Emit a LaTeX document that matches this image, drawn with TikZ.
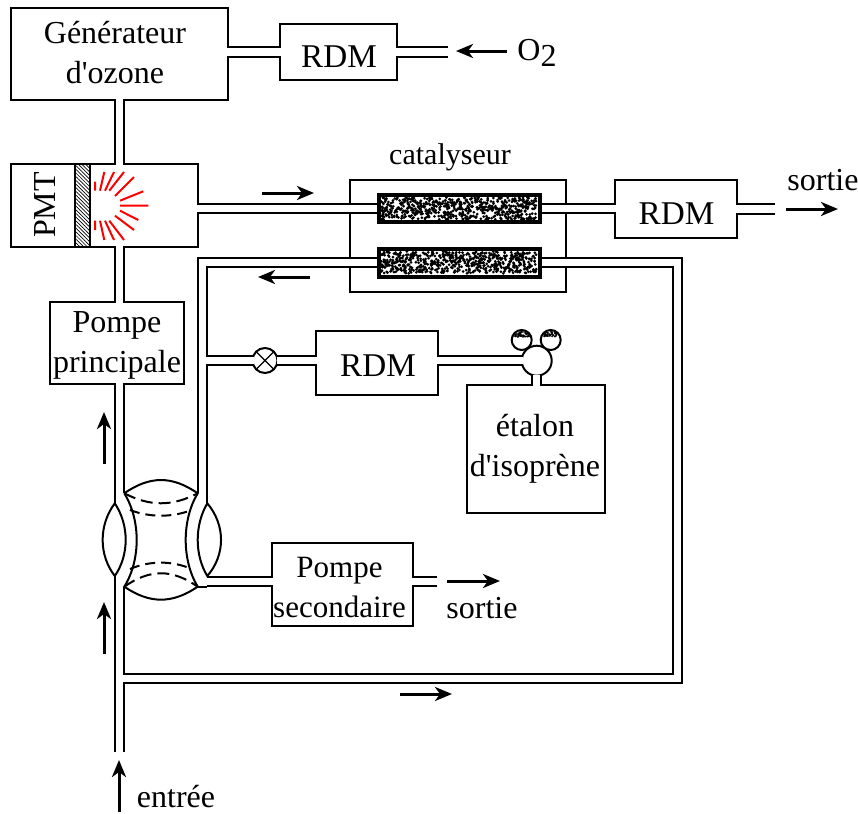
\documentclass[tikz,border=0pt]{standalone}
\usepackage{fontspec}
\setmainfont{Liberation Serif}[Ligatures=TeXOff]
\usetikzlibrary{arrows.meta,patterns.meta}

\tikzset{
  box/.style={draw,line width=1pt,outer sep=-0.5pt,inner sep=0pt,align=center},
  catbox/.style={draw,line width=2pt,fill=white,inner sep=0pt},
  pipe/.style={line width=1pt,double,double distance=3.75pt},
  wall/.style={line width=1pt},
  flow/.style={line width=1.5pt,-{Stealth[length=8.5pt,width=7pt,inset=2.5pt]}},
  lab/.style={inner sep=0pt,align=center},
  rdmlab/.style={lab,font=\fontsize{16.6}{20}\selectfont},
}

\begin{document}
\begin{tikzpicture}[x=0.5pt,y=-0.5pt,font=\fontsize{16}{20}\selectfont]
\useasboundingbox (0,0) rectangle (858,814);

% boxes
\node[box,minimum width=108.5pt,minimum height=46pt] (gen) at (119.5,54) {};
\node[box,minimum width=58.5pt,minimum height=28pt] (rdmA) at (338.5,52) {};
\node[box,minimum width=93.5pt,minimum height=41.5pt] (pmt) at (104.5,205.5) {};
\node[box,pattern={Lines[angle=-45,distance=1.3pt,line width=0.35pt]},minimum width=7.5pt,minimum height=41.5pt] (hatch) at (82.5,205.5) {};
\node[box,minimum width=108pt,minimum height=56pt] (frame) at (457.5,236) {};
\node[box,minimum width=61pt,minimum height=29pt] (rdmC) at (676,209) {};
\node[catbox,minimum width=80.5pt,minimum height=13.5pt] (catA) at (459,208.5) {};
\node[catbox,minimum width=80.5pt,minimum height=14pt] (catB) at (459,262.5) {};
\node[box,minimum width=67pt,minimum height=41pt] (pomP) at (117,343) {};
\node[box,circle,fill=white,minimum size=12.5pt] (valve) at (265,360.5) {};
\node[box,minimum width=61pt,minimum height=32pt] (rdmD) at (377,363) {};
\node[box,circle,minimum size=15pt] (bulb) at (536.7,360.7) {};
\node[box,circle,fill=white,minimum size=10pt] (sphA) at (521.7,340) {};
\node[box,circle,fill=white,minimum size=10pt] (sphB) at (550.7,340) {};
\node[box,minimum width=69pt,minimum height=64pt] (etalon) at (536,449) {};
\node[box,minimum width=70.5pt,minimum height=41.5pt] (pomS) at (342.5,584.5) {};

% labels
\node[lab] (genlab) at (115,53) {Générateur\\d'ozone};
\node[rdmlab] (rdmAlab) at (339,57) {RDM};
\node[lab] (oxy) at (537,53) {O\raisebox{-3pt}{2}};
\node[lab,rotate=90] (pmtlab) at (45,205) {PMT};
\node[lab,font=\fontsize{15}{20}\selectfont] (catlab) at (450,157) {catalyseur};
\node[rdmlab] (rdmClab) at (676.5,214) {RDM};
\node[lab] (sortA) at (823,180) {sortie};
\node[lab] (pomPlab) at (117,345) {Pompe\\principale};
\node[rdmlab] (rdmDlab) at (378,366) {RDM};
\node[lab] (etalab) at (535,449) {étalon\\d'isoprène};
\node[lab,font=\fontsize{15.5}{20}\selectfont] (pomSlab) at (339.5,587.5) {Pompe\\secondaire};
\node[lab] (sortB) at (482,608) {sortie};
\node[lab] (entree) at (176,797) {entrée};

% free ends
\coordinate (cTL) at (124.3,493.3);
\coordinate (cTR) at (197.7,493.3);
\coordinate (cBL) at (124.3,586.7);
\coordinate (cBR) at (197.7,586.7);
\coordinate (cR) at (207.3,581.7);
\coordinate (tee) at (202.5,360.5);
\coordinate (cBot) at (119.5,586.7);
\coordinate (inlet) at (119.5,752);
\coordinate (loopA) at (119.5,678.5);
\coordinate (loopB) at (677.5,678.5);
\coordinate (outA) at (448,52);
\coordinate (outC) at (775,209);
\coordinate (outS) at (437,581.7);

% pipes
\draw[pipe] (gen.east |- rdmA.west) -- (rdmA.west);
\draw[pipe] (rdmA.east) -- (outA);
\draw[pipe] (gen.south) -- (gen.south |- pmt.north);
\draw[pipe] (gen.south |- pmt.south) -- (gen.south |- pomP.north);
\draw[pipe] (gen.south |- pomP.south) -- (gen.south |- cTL);
\draw[pipe] (pmt.east |- catA.west) -- (catA.west);
\draw[pipe] (catA.east) -- (catA.east -| rdmC.west);
\draw[pipe] (rdmC.east |- outC) -- (outC);
\draw[pipe] (catB.west) -- (tee |- catB.west) -- (tee |- cTR) (tee) -- (valve.west);
\draw[pipe] (valve.east) -- (valve.east -| rdmD.west);
\draw[pipe] (rdmD.east |- bulb.west) -- (bulb.west);
\draw[pipe] (bulb.south) -- (bulb.south |- etalon.north);
\draw[pipe] (cBot) -- (inlet) (loopA) -- (loopB) -- (loopB |- catB.east) -- (catB.east);
\draw[pipe] (cR) -- (cR -| pomS.west);
\draw[pipe] (pomS.east |- outS) -- (outS);

% valve cross
\draw[line width=0.6pt] (valve.north west) -- (valve.south east) (valve.north east) -- (valve.south west);

% chamber
\draw[wall] (114.8,480) -- (114.8,503.3);
\draw[wall] (207.3,480) -- (207.3,503.3);
\draw[wall] (114.8,576) -- (114.8,590);
\draw[wall] (cBR) -- (cR |- cBR);
\draw[wall] (114.8,503.3) .. controls (98.6,525) and (98.6,555) .. (114.8,576) .. controls (129.3,555) and (129.3,525) .. (114.8,503.3);
\draw[wall] (207.3,503.3) .. controls (194.5,525) and (194.5,555) .. (207.3,576) .. controls (225.6,555) and (225.6,525) .. (207.3,503.3);
\draw[wall] (cTL) .. controls (150,475.6) and (172,475.6) .. (cTR) .. controls (181.7,520) and (181.7,560) .. (cBR)
  .. controls (172,604) and (150,604) .. (cBL) .. controls (140.8,560) and (140.8,520) .. (cTL);
\draw[wall,dash pattern=on 6pt off 3pt] (cTL) .. controls (150,506.6) and (172,506.6) .. (cTR);
\draw[wall,dash pattern=on 5pt off 3pt] (130,510) .. controls (150,517.6) and (172,517.6) .. (191.7,510);
\draw[wall,dash pattern=on 5pt off 3pt] (130,569) .. controls (150,560.5) and (172,560.5) .. (191.7,569);
\draw[wall,dash pattern=on 6pt off 3pt] (cBL) .. controls (150,568.8) and (172,568.8) .. (cBR);

% photons
\draw[line width=1pt,red]
  (95,190.7) -- (95,181.7)
  (100,190.7) -- (104.3,172)
  (105,190.7) -- (114,172)
  (109.3,190.7) -- (124,172)
  (115,196) -- (134,177)
  (120,200.7) -- (143.3,191.3)
  (120,205.7) -- (148.3,205.7)
  (120,210.7) -- (138.3,220)
  (115,215.7) -- (134,230)
  (109.3,220.7) -- (124,240)
  (105,220.7) -- (114,240)
  (100,220.7) -- (104.3,240)
  (95,220.7) -- (95,230);

% catalyst grains
\pgfmathsetseed{11}
\foreach \cat in {catA,catB}{
  \begin{scope}[shift={(\cat)}]
    \foreach \i in {1,...,640}{
      \fill ({-78+156*rnd},{-11+22*rnd}) circle (0.75pt);
    }
  \end{scope}
}
\foreach \sph in {sphA,sphB}{
  \begin{scope}[shift={(\sph)}]
    \clip (0,0) circle (9);
    \foreach \i in {1,...,45}{
      \fill ({-8+16*rnd},{-9+6*rnd}) circle (0.55pt);
    }
  \end{scope}
}

% flow arrows
\draw[flow] (507,51) -- (456,51);
\draw[flow] (262,193) -- (314,193);
\draw[flow] (310,277) -- (258,277);
\draw[flow] (786,209) -- (838,209);
\draw[flow] (104,464) -- (104,412);
\draw[flow] (104,654) -- (104,602);
\draw[flow] (447,581) -- (500,581);
\draw[flow] (400,694) -- (452,694);
\draw[flow] (119,812) -- (119,760);
\end{tikzpicture}
\end{document}
